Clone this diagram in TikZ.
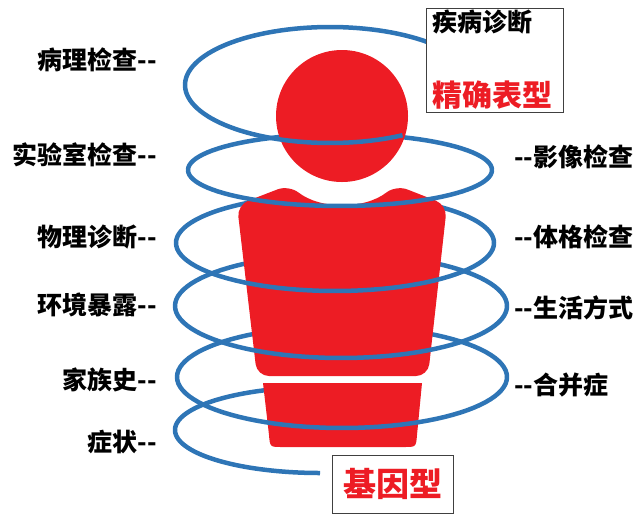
\documentclass[tikz,border=0pt]{standalone}
\usepackage{fontspec}
\newfontfamily\cjk{Noto Sans CJK SC}
\definecolor{ringblue}{RGB}{46,117,182}
\definecolor{bodyred}{RGB}{237,28,36}
\tikzset{
  ring/.style={ringblue, line width=4.5pt},
  lbl/.style={inner sep=0pt, font=\cjk\bfseries\fontsize{25}{25}\selectfont},
  tagbox/.style={draw=black!75, line width=0.9pt, fill=white, inner sep=0pt}
}
\begin{document}
\begin{tikzpicture}[x=1pt, y=-1pt]
\useasboundingbox (0,0) rectangle (639,515);
\foreach \cx/\cy/\rx/\ry/\ta/\tb in {340/170/152/36/180/360, 335/243/159/48/180/240, 335/243/159/48/300/360, 341/306/166/52/180/360, 342/377/165/51/180/360, 320/430/145/43/180/260}
  \draw[ring] plot[domain=\ta:\tb, samples=50] ({\cx+\rx*cos(\x)},{\cy+\ry*sin(\x)});
\fill[bodyred] (342,116) circle[radius=66];
\fill[bodyred, rounded corners=12] (237,205) -- (257,376) -- (428,376) -- (447,205) -- (396,185) arc[start angle=52, end angle=128, radius=87] -- cycle;
\fill[bodyred] (263,383) -- (269,435) .. controls (270,447) .. (282,447) -- (404,447) .. controls (416,447) .. (417,435) -- (422,383) -- cycle;
\draw[ring] plot[domain=-300:-48, samples=90] ({330+145*cos(\x)},{85+58*sin(\x)});
\foreach \cx/\cy/\rx/\ry/\ta/\tb in {340/170/152/36/0/180, 335/243/159/48/0/180, 341/306/166/52/0/180, 342/377/165/51/0/180, 320/430/145/43/90/180}
  \draw[ring] plot[domain=\ta:\tb, samples=50] ({\cx+\rx*cos(\x)},{\cy+\ry*sin(\x)});
\foreach \lab/\y [count=\i] in {病理检查/60, 实验室检查/155, 物理诊断/237, 环境暴露/305, 家族史/380, 症状/442}
  \node[lbl, anchor=east] (l\i) at (157,\y) {\lab-{}-};
\foreach \lab/\y [count=\i] in {影像检查/157, 体格检查/237, 生活方式/308, 合并症/385}
  \node[lbl, anchor=west] (r\i) at (514,\y) {-{}-\lab};
\node[tagbox, minimum width=137, minimum height=104, anchor=north west] (dx) at (426,8) {};
\node[lbl, anchor=north west] (dxa) at (432,10) {疾病诊断};
\node[lbl, anchor=base west, text=bodyred, font=\cjk\bfseries\fontsize{30}{30}\selectfont] (dxb) at (432,106) {精确表型};
\node[tagbox, minimum width=121, minimum height=58, text=bodyred, font=\cjk\bfseries\fontsize{33}{33}\selectfont] (jy) at (392.5,484) {基因型};
\end{tikzpicture}
\end{document}
